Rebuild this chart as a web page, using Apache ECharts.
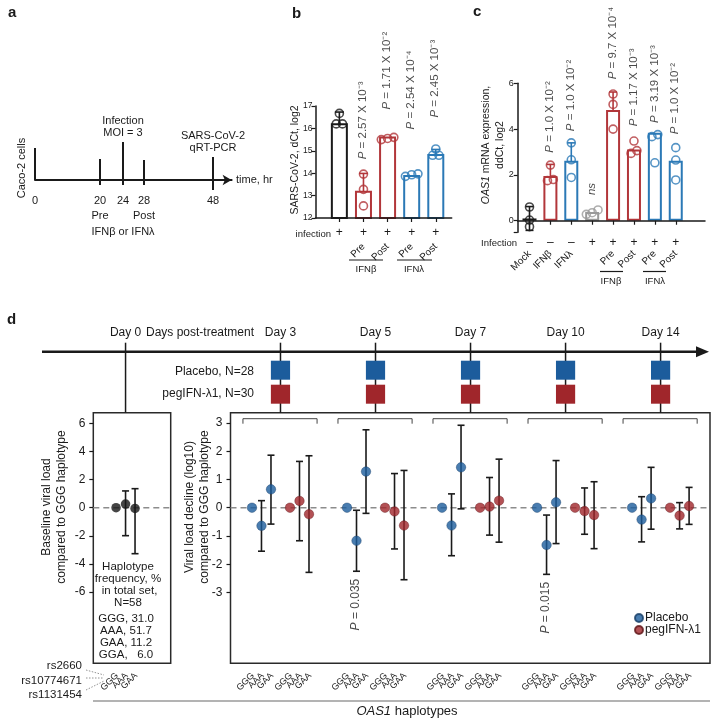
<!DOCTYPE html>
<html>
<head>
<meta charset="utf-8">
<title>OAS1 haplotypes and interferon response</title>
<script src="https://cdn.jsdelivr.net/npm/echarts@6/dist/echarts.min.js"></script>
<style>
  html, body { margin: 0; padding: 0; background: #fff; }
  #chart { width: 713px; height: 720px; }
</style>
</head>
<body>
<div id="chart"></div>
<script>
var FONT = '"Liberation Sans", Arial, sans-serif';
var INK = '#1a1a1a';
var RED = '#b2363a';
var BLUE = '#2b79b6';
var GREY = '#9a9a9a';
var D_BLUE = '#1c5c9c';
var D_RED = '#a0262b';

// ---- panel a: experiment timeline, hours (drawn on a schematic, not-to-scale axis)
var timeHours = [0, 20, 24, 28, 48];
var timeNotes = ['', '', 'Infection\nMOI = 3', '', 'SARS-CoV-2\nqRT-PCR'];
var timeUnder = { 20: 'Pre', 28: 'Post' };
var timeSlot = [0, 65, 88, 109, 178];  // schematic spacing along the arrow
var tickUp = [32, 21, 38, 20, 23];     // drawing only: px above the axis
var tickDown = [0, 5, 5, 5, 10];

// ---- panel b: SARS-CoV-2 dCt, log2
var bInfection = ['+', '+', '+', '+', '+'];
var bTreat = ['', 'Pre', 'Post', 'Pre', 'Post'];
var bMean = [16.23, 13.22, 15.64, 13.92, 14.86];
var bSD = [0.5, 0.77, 0, 0, 0.2];
var bReps = [[16.67, 16.2, 16.2], [13.96, 13.28, 12.54], [15.6, 15.5, 15.55],
             [13.86, 13.93, 13.97], [15.08, 14.8, 14.8]];
var bP = ['', '2.57 X 10⁻³', '1.71 X 10⁻²', '2.54 X 10⁻⁴', '2.45 X 10⁻³'];
var bPAt = [null, 14.6, 16.82, 15.93, 16.46];
var bColors = [INK, RED, RED, BLUE, BLUE];

// ---- panel c: OAS1 mRNA ddCt, log2
var cInfection = ['–', '–', '–', '+', '+', '+', '+', '+'];
var cTreat = ['Mock', 'IFNβ', 'IFNλ', '', 'Pre', 'Post', 'Pre', 'Post'];
var cMean = [0.1, 1.95, 2.62, 0.38, 4.83, 3.11, 3.84, 2.62];
var cSD = [0.52, 0.51, 0.78, 0, 0.79, 0, 0, 0];
var cReps = [[0.6, 0.03, -0.26], [2.43, 1.75, 1.8], [3.4, 2.66, 1.89], [0.35, 0.47, 0.28],
             [5.53, 5.08, 4.0], [3.48, 2.94, 3.06], [3.76, 3.67, 2.53], [3.19, 2.65, 1.78]];
var cP = ['', '1.0 X 10⁻²', '1.0 X 10⁻²', 'ns', '9.7 X 10⁻⁴', '1.17 X 10⁻³', '3.19 X 10⁻³', '1.0 X 10⁻²'];
var cPAt = [null, 2.95, 3.89, 1.1, 6.15, 4.1, 4.25, 3.75];
var cColors = [INK, RED, BLUE, GREY, RED, RED, BLUE, BLUE];

// ---- panel d: viral load vs OAS1 haplotype
var haplotypes = ['GGG', 'AAA', 'GAA'];
var baseMean = [0, 0.26, -0.05];
var baseLow = [null, -1.99, -3.27];
var baseHigh = [null, 1.19, 1.35];
var hapFreqNames = ['GGG', 'AAA', 'GAA', 'GGA'];
var hapFreq = [31.0, 51.7, 11.2, 6.0];
var days = ['Day 3', 'Day 5', 'Day 7', 'Day 10', 'Day 14'];
var placeboMean = [[0, -0.64, 0.65], [0, -1.17, 1.28], [0, -0.63, 1.43], [0, -1.32, 0.19], [0, -0.42, 0.33]];
var placeboLow = [[null, -1.54, -0.58], [null, -2.25, -0.2], [null, -1.7, -0.04], [null, -2.36, -1.27], [null, -1.21, -0.76]];
var placeboHigh = [[null, 0.25, 1.86], [null, -0.09, 2.76], [null, 0.49, 2.92], [null, -0.26, 1.67], [null, 0.39, 1.43]];
var pegMean = [[0, 0.24, -0.23], [0, -0.13, -0.63], [0, 0.04, 0.25], [0, -0.12, -0.26], [0, -0.28, 0.06]];
var pegLow = [[null, -1.17, -2.29], [null, -1.46, -2.55], [null, -0.97, -1.22], [null, -0.94, -1.45], [null, -0.75, -0.59]];
var pegHigh = [[null, 1.64, 1.84], [null, 1.21, 1.32], [null, 1.07, 1.72], [null, 0.7, 0.92], [null, 0.18, 0.72]];
var dNotes = [{ day: 1, hap: 1, text: '0.035' }, { day: 3, hap: 1, text: '0.015' }];

// position of a point on the panel d axis: 10 per day, placebo then peg (offset 4)
function dPos(day, arm, hap) { return day * 10 + arm * 4 + hap; }

// side-by-side placement of replicates that overlap
function dodge(vals, thresh) {
  var idx = vals.map(function (v, i) { return i; }).sort(function (a, b) { return vals[a] - vals[b]; });
  var off = vals.map(function () { return 0; });
  var i = 0;
  while (i < idx.length) {
    var j = i;
    while (j + 1 < idx.length && vals[idx[j + 1]] - vals[idx[j]] < thresh) j++;
    var n = j - i + 1;
    for (var k = i; k <= j; k++) off[idx[k]] = (k - i) - (n - 1) / 2;
    i = j + 1;
  }
  return off;
}

function repPoints(reps, colors, step) {
  var out = [];
  reps.forEach(function (r, g) {
    var off = dodge(r, 0.25);
    r.forEach(function (v, k) {
      out.push({ value: [g + off[k] * step, v], itemStyle: { borderColor: colors[g] } });
    });
  });
  return out;
}

function errorBars(colorOf, cap, width) {
  return function (params, api) {
    var x = api.value(0);
    var lo = api.coord([x, api.value(1)]);
    var hi = api.coord([x, api.value(2)]);
    var c = colorOf(api.value(3));
    var h = cap / 2;
    function seg(x1, y1, x2, y2) {
      return { type: 'line', shape: { x1: x1, y1: y1, x2: x2, y2: y2 }, style: { stroke: c, lineWidth: width } };
    }
    return { type: 'group', children: [
      seg(lo[0], lo[1], hi[0], hi[1]),
      seg(hi[0] - h, hi[1], hi[0] + h, hi[1]),
      seg(lo[0] - h, lo[1], lo[0] + h, lo[1])
    ] };
  };
}

function zeroLine(params, api) {
  var cs = params.coordSys;
  var y = api.coord([0, 0])[1];
  return { type: 'line', shape: { x1: cs.x, y1: y, x2: cs.x + cs.width, y2: y },
    style: { stroke: '#8c8c8c', lineWidth: 1.4, lineDash: [6, 4] } };
}

// rotated haplotype names under a box
function hapLabel(params, api) {
  var cs = params.coordSys;
  var x = api.coord([api.value(0), 0])[0];
  return { type: 'text', x: x + 1, y: cs.y + cs.height + 11, rotation: Math.PI / 4,
    style: { text: haplotypes[api.value(1)], fill: INK, fontFamily: FONT, fontSize: 9,
      align: 'right', verticalAlign: 'middle' } };
}

function txt(x, y, text, o) {
  o = o || {};
  var style = {
    text: text, fill: o.color || INK, fontFamily: FONT, fontSize: o.size || 12,
    fontWeight: o.weight || 'normal', fontStyle: o.italic ? 'italic' : 'normal',
    align: o.align || 'center', verticalAlign: o.valign || 'middle'
  };
  if (o.lineHeight) style.lineHeight = o.lineHeight;
  if (o.rich) style.rich = o.rich;
  return { type: 'text', x: x, y: y, rotation: o.rotation || 0, silent: true, style: style };
}
function seg(x1, y1, x2, y2, color, w, dash) {
  var s = { stroke: color || INK, lineWidth: w || 1 };
  if (dash) s.lineDash = dash;
  return { type: 'line', silent: true, shape: { x1: x1, y1: y1, x2: x2, y2: y2 }, style: s };
}
function italicRich(size) {
  return { i: { fontStyle: 'italic', fontSize: size, fontFamily: FONT, fill: INK } };
}

var pRich = { i: { fontStyle: 'italic', fontSize: 11.5, fontFamily: FONT, color: INK } };
function pLabel(texts) {
  return {
    show: true, position: [0, 0], rotate: 90, align: 'left', verticalAlign: 'middle',
    fontSize: 11.5, fontFamily: FONT, color: INK, rich: pRich,
    formatter: function (p) {
      var t = texts[p.data.value[0]];
      return t === 'ns' ? '{i|ns}' : '{i|P} = ' + t;
    }
  };
}
function pData(at) {
  var out = [];
  at.forEach(function (v, i) { if (v !== null) out.push({ value: [i, v] }); });
  return out;
}

// ---------- data for panel d marks
var dPlacebo = [], dPeg = [], dErr = [], dHap = [];
days.forEach(function (d, k) {
  haplotypes.forEach(function (h, j) {
    dPlacebo.push([dPos(k, 0, j), placeboMean[k][j]]);
    dPeg.push([dPos(k, 1, j), pegMean[k][j]]);
    if (placeboLow[k][j] !== null) dErr.push([dPos(k, 0, j), placeboLow[k][j], placeboHigh[k][j], 0]);
    if (pegLow[k][j] !== null) dErr.push([dPos(k, 1, j), pegLow[k][j], pegHigh[k][j], 0]);
    dHap.push([dPos(k, 0, j), j], [dPos(k, 1, j), j]);
  });
});
var baseErr = [];
baseMean.forEach(function (v, j) { if (baseLow[j] !== null) baseErr.push([j, baseLow[j], baseHigh[j], 0]); });

var bErr = [], cErr = [];
bMean.forEach(function (m, i) { if (bSD[i] > 0) bErr.push([i, m - bSD[i], m + bSD[i], i]); });
cMean.forEach(function (m, i) { if (cSD[i] > 0) cErr.push([i, m - cSD[i], m + cSD[i], i]); });

var freqText = hapFreqNames.map(function (n, i) {
  var v = hapFreq[i].toFixed(1);
  return n + ', ' + (v.length < 4 ? '  ' : '') + v;
}).join('\n');

var labelBase = { fontFamily: FONT, color: INK };
function ax(extra) { return Object.assign({ splitLine: { show: false } }, extra); }

var option = {
  backgroundColor: '#fff',
  animation: false,
  textStyle: { fontFamily: FONT, color: INK },
  grid: [
    { left: 35, top: 140, width: 196.6, height: 50 },
    { left: 315.5, top: 106, width: 136.2, height: 112 },
    { left: 517.7, top: 83.3, width: 187.3, height: 148.9 },
    { left: 93.3, top: 412.7, width: 77.4, height: 250.6, show: true, borderColor: '#2a2a2a', borderWidth: 1.5 },
    { left: 230.5, top: 412.7, width: 479.5, height: 250.6, show: true, borderColor: '#2a2a2a', borderWidth: 1.5 }
  ],
  legend: {
    data: ['Placebo', 'pegIFN-λ1'], orient: 'vertical', left: 634, top: 612,
    icon: 'circle', itemWidth: 8, itemHeight: 8, itemGap: 0, padding: 0, selectedMode: false,
    textStyle: { fontSize: 12, fontFamily: FONT, color: INK, lineHeight: 12, padding: [0, 0, 0, -3] }
  },
  xAxis: [
    ax({ type: 'value', gridIndex: 0, min: 0, max: 196.6,
      axisLine: { onZero: true, symbol: ['none', 'arrow'], symbolSize: [8, 9], lineStyle: { color: INK, width: 2 } },
      axisTick: { show: false },
      axisLabel: Object.assign({ customValues: timeSlot, margin: 3, fontSize: 11, lineHeight: 15,
        formatter: function (v) {
          var h = timeHours[timeSlot.indexOf(v)];
          return timeUnder[h] ? h + '\n' + timeUnder[h] : String(h);
        } }, labelBase) }),
    ax({ type: 'value', gridIndex: 1, min: -0.99, max: 4.66, position: 'bottom', z: 10,
      axisLine: { onZero: false, lineStyle: { color: INK, width: 1.5 } },
      axisTick: { customValues: [0, 1, 2, 3, 4], length: 4, lineStyle: { color: INK, width: 1.2 } },
      axisLabel: Object.assign({ customValues: [0, 1, 2, 3, 4], margin: 9, fontSize: 12,
        formatter: function (v) { return bInfection[v]; } }, labelBase) }),
    ax({ type: 'value', gridIndex: 1, min: -0.99, max: 4.66, position: 'bottom',
      axisLine: { show: false, onZero: false }, axisTick: { show: false },
      axisLabel: Object.assign({ customValues: [1, 2, 3, 4], rotate: 45, margin: 27, fontSize: 10,
        formatter: function (v) { return bTreat[v]; } }, labelBase) }),
    ax({ type: 'value', gridIndex: 2, min: -0.565, max: 8.4, position: 'bottom', z: 10,
      axisLine: { onZero: true, lineStyle: { color: INK, width: 1.5 } },
      axisTick: { customValues: [0, 1, 2, 3, 4, 5, 6, 7], length: 4, lineStyle: { color: INK, width: 1.2 } },
      axisLabel: Object.assign({ customValues: [0, 1, 2, 3, 4, 5, 6, 7], margin: 4, fontSize: 12,
        formatter: function (v) { return cInfection[v]; } }, labelBase) }),
    ax({ type: 'value', gridIndex: 2, min: -0.565, max: 8.4, position: 'bottom',
      axisLine: { show: false, onZero: false }, axisTick: { show: false },
      axisLabel: Object.assign({ customValues: [0, 1, 2, 4, 5, 6, 7], rotate: 45, margin: 20, fontSize: 10,
        formatter: function (v) { return cTreat[v]; } }, labelBase) }),
    { type: 'value', gridIndex: 3, min: -2.4, max: 5.76, show: false },
    { type: 'value', gridIndex: 4, min: -2.26, max: 48.2, show: false }
  ],
  yAxis: [
    { type: 'value', gridIndex: 0, min: -10, max: 40, show: false },
    ax({ type: 'value', gridIndex: 1, min: 12, max: 17, interval: 1,
      axisLine: { show: true, onZero: false, lineStyle: { color: INK, width: 1.5 } },
      axisTick: { show: true, length: 4, lineStyle: { color: INK, width: 1.2 } },
      axisLabel: Object.assign({ fontSize: 8.5, margin: 3 }, labelBase) }),
    ax({ type: 'value', gridIndex: 2, min: -0.5, max: 6,
      axisLine: { show: true, onZero: false, lineStyle: { color: INK, width: 1.5 } },
      axisTick: { show: true, customValues: [-0.5, 0, 2, 4, 6], length: 4, lineStyle: { color: INK, width: 1.2 } },
      axisLabel: Object.assign({ customValues: [0, 2, 4, 6], fontSize: 9, margin: 4 }, labelBase) }),
    ax({ type: 'value', gridIndex: 3, min: -11.06, max: 6.75,
      axisLine: { show: false, onZero: false },
      axisTick: { show: true, customValues: [-6, -4, -2, 0, 2, 4, 6], length: 4, lineStyle: { color: INK, width: 1.2 } },
      axisLabel: Object.assign({ customValues: [-6, -4, -2, 0, 2, 4, 6], fontSize: 12, margin: 8 }, labelBase) }),
    ax({ type: 'value', gridIndex: 4, min: -5.51, max: 3.365,
      axisLine: { show: false, onZero: false },
      axisTick: { show: true, customValues: [-3, -2, -1, 0, 1, 2, 3], length: 4, lineStyle: { color: INK, width: 1.2 } },
      axisLabel: Object.assign({ customValues: [-3, -2, -1, 0, 1, 2, 3], fontSize: 12, margin: 8 }, labelBase) })
  ],
  series: [
    // panel a ticks and notes
    { type: 'custom', xAxisIndex: 0, yAxisIndex: 0, data: timeSlot.map(function (s) { return [s]; }),
      renderItem: function (params, api) {
        var i = params.dataIndex;
        var p = api.coord([api.value(0), 0]);
        var kids = [{ type: 'line', shape: { x1: p[0], y1: p[1] - tickUp[i], x2: p[0], y2: p[1] + tickDown[i] },
          style: { stroke: INK, lineWidth: 2 } }];
        if (timeNotes[i]) {
          kids.push({ type: 'text', x: p[0], y: p[1] - tickUp[i] - 3,
            style: { text: timeNotes[i], fill: INK, fontFamily: FONT, fontSize: 11, lineHeight: 12,
              align: 'center', verticalAlign: 'bottom' } });
        }
        return { type: 'group', children: kids };
      } },

    // panel b
    { type: 'custom', xAxisIndex: 1, yAxisIndex: 1, z: 2, data: bErr,
      renderItem: errorBars(function (g) { return bColors[g]; }, 9, 1.6) },
    { type: 'bar', xAxisIndex: 1, yAxisIndex: 1, z: 3, barWidth: 17,
      data: bMean.map(function (v, i) {
        return { value: [i, v], itemStyle: { color: '#fff', borderColor: bColors[i], borderWidth: 2 } };
      }) },
    { type: 'scatter', xAxisIndex: 1, yAxisIndex: 1, z: 4, symbolSize: 8,
      itemStyle: { color: 'transparent', borderWidth: 1.6 },
      data: repPoints(bReps, bColors, 0.26) },
    { type: 'scatter', xAxisIndex: 1, yAxisIndex: 1, z: 4, symbolSize: 1, clip: false,
      itemStyle: { color: 'transparent' }, label: pLabel(bP), data: pData(bPAt) },

    // panel c
    { type: 'custom', xAxisIndex: 3, yAxisIndex: 2, z: 2, data: cErr,
      renderItem: errorBars(function (g) { return cColors[g]; }, 8, 1.6) },
    { type: 'bar', xAxisIndex: 3, yAxisIndex: 2, z: 3, barWidth: 14,
      data: cMean.map(function (v, i) {
        return { value: [i, v], itemStyle: { color: '#fff', borderColor: cColors[i], borderWidth: 2 } };
      }) },
    { type: 'scatter', xAxisIndex: 3, yAxisIndex: 2, z: 4, symbolSize: 8,
      itemStyle: { color: 'transparent', borderWidth: 1.6 },
      data: repPoints(cReps, cColors, 0.28) },
    { type: 'scatter', xAxisIndex: 3, yAxisIndex: 2, z: 4, symbolSize: 1, clip: false,
      itemStyle: { color: 'transparent' }, label: pLabel(cP), data: pData(cPAt) },

    // panel d, baseline box
    { type: 'custom', xAxisIndex: 5, yAxisIndex: 3, z: 1, data: [[0]], renderItem: zeroLine },
    { type: 'custom', xAxisIndex: 5, yAxisIndex: 3, z: 2, data: baseErr,
      renderItem: errorBars(function () { return INK; }, 7, 1.6) },
    { type: 'scatter', xAxisIndex: 5, yAxisIndex: 3, z: 3, symbolSize: 9.5,
      itemStyle: { color: '#161616' },
      data: baseMean.map(function (v, j) { return [j, v]; }) },
    { type: 'custom', xAxisIndex: 5, yAxisIndex: 3, z: 1,
      data: haplotypes.map(function (h, j) { return [j, j]; }), renderItem: hapLabel },
    { type: 'custom', xAxisIndex: 5, yAxisIndex: 3, z: 1, data: [[1]],
      renderItem: function (params, api) {
        var top = params.coordSys.y;
        var x = api.coord([api.value(0), 0])[0];
        return { type: 'group', children: [
          { type: 'line', shape: { x1: x, y1: top - 70, x2: x, y2: top }, style: { stroke: INK, lineWidth: 1.5 } },
          { type: 'text', x: x, y: top - 80, style: { text: 'Day 0', fill: INK, fontFamily: FONT, fontSize: 12,
            align: 'center', verticalAlign: 'middle' } }
        ] };
      } },

    // panel d, post-treatment box
    { type: 'custom', xAxisIndex: 6, yAxisIndex: 4, z: 1, data: [[0]], renderItem: zeroLine },
    { type: 'custom', xAxisIndex: 6, yAxisIndex: 4, z: 2, data: dErr,
      renderItem: errorBars(function () { return INK; }, 7, 1.6) },
    { type: 'scatter', name: 'Placebo', xAxisIndex: 6, yAxisIndex: 4, z: 3, symbolSize: 9.5,
      itemStyle: { color: D_BLUE, borderColor: '#163d66', borderWidth: 0.5 }, data: dPlacebo },
    { type: 'scatter', name: 'pegIFN-λ1', xAxisIndex: 6, yAxisIndex: 4, z: 3, symbolSize: 9.5,
      itemStyle: { color: D_RED, borderColor: '#5e1518', borderWidth: 0.5 }, data: dPeg },
    { type: 'custom', xAxisIndex: 6, yAxisIndex: 4, z: 1, data: dHap, renderItem: hapLabel },
    { type: 'custom', xAxisIndex: 6, yAxisIndex: 4, z: 1, data: days.map(function (d, k) { return [k]; }),
      renderItem: function (params, api) {
        var k = api.value(0);
        var top = params.coordSys.y;
        var x = api.coord([dPos(k, 0, 0) + 3, 0])[0];
        var bx0 = api.coord([dPos(k, 0, 0) - 0.95, 0])[0];
        var bx1 = api.coord([dPos(k, 1, 2) + 0.85, 0])[0];
        var by = top + 6;
        return { type: 'group', children: [
          { type: 'line', shape: { x1: x, y1: top - 70, x2: x, y2: top }, style: { stroke: INK, lineWidth: 1.5 } },
          { type: 'rect', shape: { x: x - 9.6, y: top - 52, width: 19.2, height: 19 }, style: { fill: D_BLUE } },
          { type: 'rect', shape: { x: x - 9.6, y: top - 28, width: 19.2, height: 19 }, style: { fill: D_RED } },
          { type: 'text', x: x, y: top - 80, style: { text: days[k], fill: INK, fontFamily: FONT, fontSize: 12,
            align: 'center', verticalAlign: 'middle' } },
          { type: 'polyline', shape: { points: [[bx0, by + 5], [bx0, by], [bx1, by], [bx1, by + 5]] },
            style: { stroke: '#444', lineWidth: 1, fill: null } }
        ] };
      } },
    { type: 'scatter', xAxisIndex: 6, yAxisIndex: 4, z: 4, symbolSize: 1, clip: false,
      itemStyle: { color: 'transparent' },
      data: dNotes.map(function (n) {
        return { value: [dPos(n.day, 0, n.hap), placeboLow[n.day][n.hap]], name: n.text };
      }),
      label: { show: true, position: [0, 8], rotate: 90, align: 'right', verticalAlign: 'middle',
        fontSize: 12, fontFamily: FONT, color: INK,
        rich: { i: { fontStyle: 'italic', fontSize: 12, fontFamily: FONT, color: INK } },
        formatter: function (p) { return '{i|P} = ' + p.name; } } }
  ],
  graphic: [
    // panel letters
    txt(8, 13, 'a', { size: 15, weight: 'bold', align: 'left' }),
    txt(292, 14, 'b', { size: 15, weight: 'bold', align: 'left' }),
    txt(473, 12, 'c', { size: 15, weight: 'bold', align: 'left' }),
    txt(7, 320, 'd', { size: 15, weight: 'bold', align: 'left' }),

    // panel a extras
    txt(22, 168, 'Caco-2 cells', { size: 11, rotation: Math.PI / 2 }),
    txt(236, 180, 'time, hr', { size: 11, align: 'left' }),
    txt(123, 232, 'IFNβ or IFNλ', { size: 11 }),

    // panel b extras
    txt(295, 160, 'SARS-CoV-2, dCt, log2', { size: 10.5, rotation: Math.PI / 2 }),
    txt(331, 234, 'infection', { size: 9.5, align: 'right' }),
    seg(349, 260, 383, 260, INK, 1.2), txt(366, 269, 'IFNβ', { size: 9.5 }),
    seg(397, 260, 432, 260, INK, 1.2), txt(414, 269, 'IFNλ', { size: 9.5 }),

    // panel c extras
    txt(493, 145, '{i|OAS1} mRNA expression,\nddCt, log2',
      { size: 10.5, rotation: Math.PI / 2, lineHeight: 14, rich: italicRich(10.5) }),
    txt(517, 243, 'Infection', { size: 9.5, align: 'right' }),
    seg(600, 271.5, 623, 271.5, INK, 1.2), txt(611, 281, 'IFNβ', { size: 9.5 }),
    seg(643, 271.5, 666, 271.5, INK, 1.2), txt(655, 281, 'IFNλ', { size: 9.5 }),

    // panel d timeline
    seg(42, 351.7, 699, 351.7, INK, 2.5),
    { type: 'polygon', silent: true, shape: { points: [[709, 351.7], [696, 346.2], [696, 357.2]] }, style: { fill: INK } },
    txt(200, 333, 'Days post-treatment', { size: 12 }),
    txt(254, 372, 'Placebo, N=28', { size: 12, align: 'right' }),
    txt(254, 394, 'pegIFN-λ1, N=30', { size: 12, align: 'right' }),

    // panel d box texts
    txt(54, 507, 'Baseline viral load\ncompared to GGG haplotype', { size: 12, rotation: Math.PI / 2, lineHeight: 15 }),
    txt(197, 507, 'Viral load decline (log10)\ncompared to GGG haplotype', { size: 12, rotation: Math.PI / 2, lineHeight: 14.5 }),
    txt(128, 561, 'Haplotype\nfrequency, %\n in total set,\nN=58', { size: 11.5, valign: 'top', lineHeight: 12 }),
    txt(126, 612.5, freqText, { size: 11.5, valign: 'top', lineHeight: 12 }),

    // haplotype key
    txt(82, 666, 'rs2660', { size: 11.5, align: 'right' }),
    txt(82, 681, 'rs10774671', { size: 11.5, align: 'right' }),
    txt(82, 695, 'rs1131454', { size: 11.5, align: 'right' }),
    seg(86, 670, 104, 675, '#777', 0.8, [1.5, 1.5]),
    seg(86, 678, 104, 678, '#777', 0.8, [1.5, 1.5]),
    seg(86, 690, 104, 681, '#777', 0.8, [1.5, 1.5]),
    seg(93, 701, 710, 701, '#9a9a9a', 1.5),
    txt(407, 711, '{i|OAS1} haplotypes', { size: 13, rich: italicRich(13) })
  ]
};

var chart = echarts.init(document.getElementById('chart'));
chart.setOption(option);
</script>
</body>
</html>
